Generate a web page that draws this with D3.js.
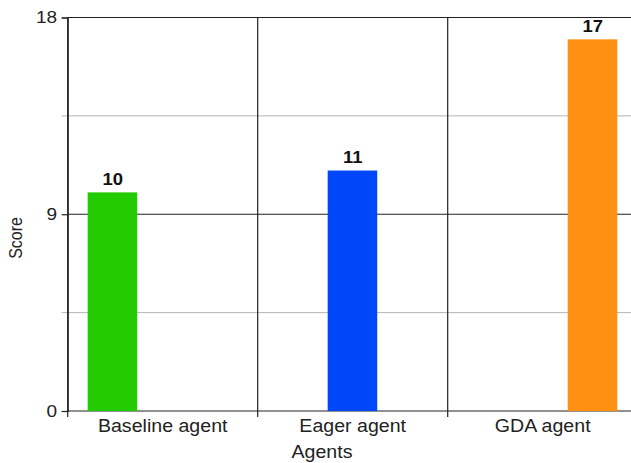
<!DOCTYPE html>
<html>
<head>
<meta charset="utf-8">
<script src="https://cdn.jsdelivr.net/npm/d3@7"></script>
<style>
  html, body { margin: 0; padding: 0; background: #fff; overflow: hidden; }
  text { font-family: "Liberation Sans", Arial, sans-serif; }
</style>
</head>
<body>
<svg id="chart" width="631" height="463"></svg>
<script>
// Agent scores; each series only has a value in its own category
const categories = ["Baseline agent", "Eager agent", "GDA agent"];
const seriesNames = ["Baseline", "Eager", "GDA"];
const baselineScores = [10, null, null];
const eagerScores = [null, 11, null];
const gdaScores = [null, null, 17];
const seriesColors = ["#22cc00", "#0047fa", "#ff9012"];
const yTicks = [0, 9, 18];
const yMinorTicks = [4.5, 13.5];

const seriesValues = [baselineScores, eagerScores, gdaScores];

const FONT = "'Liberation Sans', Arial, sans-serif";
const WIDE = "scale(1.12,1)";   // text is set slightly wide

const svg = d3.select("#chart");
const margin = { top: 17.5, left: 67.7, bottom: 52 };
const plotWidth = 570;           // runs slightly past the right edge of the page
const plotHeight = 463 - margin.top - margin.bottom;

const g = svg.append("g").attr("transform", `translate(${margin.left},${margin.top})`);

const x0 = d3.scaleBand().domain(categories).range([0, plotWidth]).padding(0);
const x1 = d3.scaleBand().domain(seriesNames)
  .range([x0.bandwidth() * 0.105, x0.bandwidth() * 0.895]).padding(0);
const y = d3.scaleLinear().domain([0, 18]).range([plotHeight, 0]);

// minor horizontal gridlines
g.selectAll(".minor").data(yMinorTicks).enter().append("line")
  .attr("x1", -6).attr("x2", plotWidth)
  .attr("y1", d => y(d)).attr("y2", d => y(d))
  .attr("stroke", "#b4b4b4").attr("stroke-width", 1);

// major horizontal gridlines
g.selectAll(".major").data(yTicks).enter().append("line")
  .attr("x1", 0).attr("x2", plotWidth)
  .attr("y1", d => y(d)).attr("y2", d => y(d))
  .attr("stroke", "#222").attr("stroke-width", 1.2);

// vertical category separators
const bounds = categories.map(c => x0(c)).concat([plotWidth]);
g.selectAll(".vsep").data(bounds).enter().append("line")
  .attr("x1", d => d).attr("x2", d => d)
  .attr("y1", 0).attr("y2", plotHeight + 6)
  .attr("stroke", "#222").attr("stroke-width", 1.2);

// bars
const barData = [];
categories.forEach((c, ci) => {
  seriesNames.forEach((s, si) => {
    const v = seriesValues[si][ci];
    if (v !== null) barData.push({ cat: c, series: s, value: v, color: seriesColors[si] });
  });
});

g.selectAll(".bar").data(barData).enter().append("rect")
  .attr("x", d => x0(d.cat) + x1(d.series))
  .attr("width", x1.bandwidth() - 0.5)
  .attr("y", d => y(d.value))
  .attr("height", d => plotHeight - y(d.value))
  .attr("fill", d => d.color);

// value labels
g.selectAll(".vlabel").data(barData).enter().append("text")
  .attr("transform", d =>
    `translate(${x0(d.cat) + x1(d.series) + x1.bandwidth() / 2},${y(d.value) - 7.5}) ${WIDE}`)
  .attr("text-anchor", "middle")
  .attr("font-size", 16.5).attr("font-weight", "bold").attr("fill", "#111")
  .text(d => d.value);

// y axis
const yAxis = g.append("g").call(d3.axisLeft(y).tickValues(yTicks).tickSize(6).tickPadding(4));
yAxis.select(".domain").attr("stroke", "#222").attr("stroke-width", 1.2);
yAxis.selectAll(".tick line").attr("stroke", "#222").attr("stroke-width", 1.2);
yAxis.selectAll(".tick text").attr("font-size", 17).attr("fill", "#222")
  .attr("x", -9.5).attr("transform", WIDE)
  .style("font-family", FONT);

// x axis labels
const xAxis = g.append("g").attr("transform", `translate(0,${plotHeight})`)
  .call(d3.axisBottom(x0).tickSize(0).tickPadding(9));
xAxis.select(".domain").remove();
xAxis.selectAll(".tick text").attr("font-size", 17.5).attr("fill", "#222")
  .attr("transform", WIDE)
  .style("font-family", FONT);

// axis titles
svg.append("text")
  .attr("transform", "translate(22,238) rotate(-90) scale(1,1.1)")
  .attr("text-anchor", "middle").attr("font-size", 16).attr("fill", "#222")
  .text("Score");

svg.append("text")
  .attr("transform", `translate(322,457.5) ${WIDE}`)
  .attr("text-anchor", "middle").attr("font-size", 17.5).attr("fill", "#222")
  .text("Agents");
</script>
</body>
</html>
